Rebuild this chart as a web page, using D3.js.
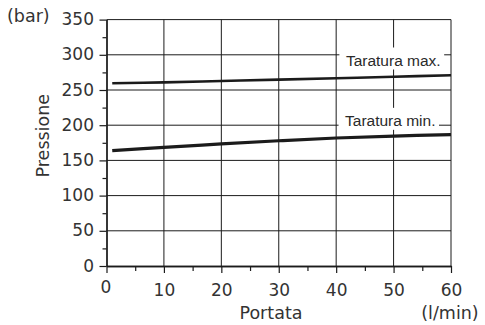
<!DOCTYPE html>
<html>
<head>
<meta charset="utf-8">
<script src="https://cdn.jsdelivr.net/npm/d3@7"></script>
<style>
  html, body { margin: 0; padding: 0; background: #fff; }
  svg { display: block; }
  .tick-label, .axis-title { font-family: "DejaVu Sans", Verdana, sans-serif; fill: #333; }
  .curve-label { font-family: "Liberation Sans", Arial, sans-serif; fill: #2a2a2a; }
</style>
</head>
<body>
<svg id="chart" width="485" height="325"></svg>
<script>
// Flow rate (l/min) at which the pressure settings were read
const flow = [1, 10, 20, 30, 40, 50, 60];
// Pressure (bar) with the relief valve at its maximum setting
const pressureMax = [259.5, 260.9, 262.8, 264.7, 266.7, 268.8, 270.9];
// Pressure (bar) with the relief valve at its minimum setting
const pressureMin = [163.8, 168.5, 173.4, 177.9, 181.8, 184.6, 186.6];

const xTicks = [0, 10, 20, 30, 40, 50, 60];
const xMinorTicks = [5, 15, 25, 35, 45, 55];
const yTicks = [0, 50, 100, 150, 200, 250, 300, 350];
const yMinorTicks = [25, 75, 125, 175, 225, 275, 325];

const seriesNames = ["Taratura max.", "Taratura min."];
const xTitle = "Portata";
const xUnit = "(l/min)";
const yTitle = "Pressione";
const yUnit = "(bar)";

const svg = d3.select("#chart");
const ink = "#1b1b1b";

const x = d3.scaleLinear().domain([0, 60]).range([106.5, 451]);
const y = d3.scaleLinear().domain([0, 350]).range([266, 19.6]);

// Grid
const grid = svg.append("g").attr("stroke", ink).attr("stroke-width", 1);
grid.selectAll("line.h").data(yTicks.slice(1)).join("line")
  .attr("x1", x(0)).attr("x2", x(60))
  .attr("y1", d => y(d)).attr("y2", d => y(d));
grid.selectAll("line.v").data(xTicks.slice(1)).join("line")
  .attr("y1", y(0)).attr("y2", y(350))
  .attr("x1", d => x(d)).attr("x2", d => x(d));

// Curve labels sit on white patches that interrupt the grid
const labelSpecs = [
  { text: seriesNames[0], xv: 58.2, yv: 284.8 },
  { text: seriesNames[1], xv: 57.3, yv: 199.1 }
];
labelSpecs.forEach(s => {
  const g = svg.append("g");
  const rect = g.append("rect").attr("fill", "#fff");
  const t = g.append("text").attr("class", "curve-label")
    .attr("x", x(s.xv)).attr("y", y(s.yv))
    .attr("text-anchor", "end").attr("font-size", 15.5)
    .text(s.text);
  const bb = t.node().getBBox();
  rect.attr("x", bb.x - 6.5).attr("width", bb.width + 10)
    .attr("y", y(s.yv) - 18).attr("height", 22);
});

// Pressure curves
const line = d3.line()
  .x((d, i) => x(flow[i]))
  .y(d => y(d))
  .curve(d3.curveCatmullRom);
svg.append("path").datum(pressureMax)
  .attr("d", line).attr("fill", "none")
  .attr("stroke", ink).attr("stroke-width", 2.6);
svg.append("path").datum(pressureMin)
  .attr("d", line).attr("fill", "none")
  .attr("stroke", ink).attr("stroke-width", 3.2);

// Axes
const yAxis = d3.axisLeft(y).tickValues(yTicks).tickSize(7).tickPadding(5.5).tickSizeOuter(0);
const yMinor = d3.axisLeft(y).tickValues(yMinorTicks).tickSize(4).tickFormat("").tickSizeOuter(0);
const xAxis = d3.axisBottom(x).tickValues(xTicks).tickSize(7).tickSizeOuter(0).tickFormat(d3.format("d"));
const xMinor = d3.axisBottom(x).tickValues(xMinorTicks).tickSize(5).tickFormat("").tickSizeOuter(0);

function styleAxis(g) {
  g.selectAll(".domain").attr("stroke", ink).attr("stroke-width", 1.3);
  g.selectAll(".tick line").attr("stroke", ink).attr("stroke-width", 1.2);
  g.selectAll(".tick text").attr("class", "tick-label")
    .attr("font-size", 17).attr("fill", null);
}

svg.append("g").attr("transform", `translate(${x(0)},0)`).call(yMinor).call(styleAxis);
svg.append("g").attr("transform", `translate(0,${y(0)})`).call(xMinor).call(styleAxis);
svg.append("g").attr("transform", `translate(${x(0)},0)`).call(yAxis).call(styleAxis)
  .selectAll(".tick text").attr("dy", "0.3em");
const xg = svg.append("g").attr("transform", `translate(0,${y(0)})`).call(xAxis).call(styleAxis);
xg.selectAll(".tick text").attr("y", 30).attr("dy", 0)
  .filter(d => d === 0).attr("y", 27).attr("dx", -1);

// Titles and units
svg.append("text").attr("class", "axis-title").attr("font-size", 17.5)
  .attr("x", 7).attr("y", 21.7).text(yUnit);
svg.append("text").attr("class", "axis-title").attr("font-size", 17.5)
  .attr("transform", "translate(48.5,135.7) rotate(-90)")
  .attr("text-anchor", "middle").text(yTitle);
svg.append("text").attr("class", "axis-title").attr("font-size", 17.5)
  .attr("x", 271).attr("y", 319).attr("text-anchor", "middle").text(xTitle);
svg.append("text").attr("class", "axis-title").attr("font-size", 17.5)
  .attr("x", 450).attr("y", 319).attr("text-anchor", "middle").text(xUnit);
</script>
</body>
</html>
